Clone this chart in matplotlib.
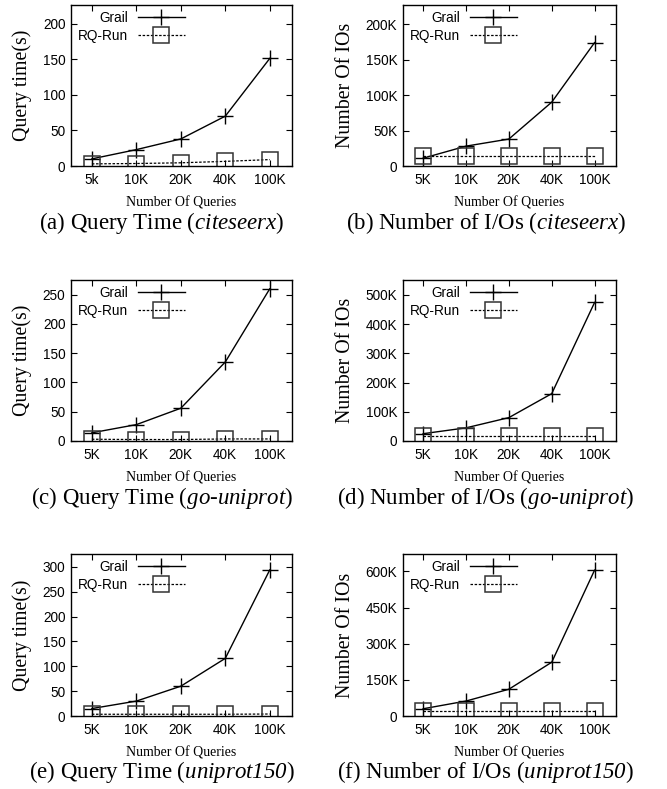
import matplotlib
matplotlib.use("Agg")
import matplotlib.pyplot as plt
import numpy as np

plt.rcParams['font.family'] = ['Liberation Sans', 'DejaVu Sans']
# math parts are only used for the italic dataset names in the captions
plt.rcParams['mathtext.fontset'] = 'custom'
plt.rcParams['mathtext.rm'] = 'Liberation Serif:italic'
plt.rcParams['mathtext.it'] = 'Liberation Serif:italic'

# ---- data ----
queries_a = ["5k", "10K", "20K", "40K", "100K"]
queries = ["5K", "10K", "20K", "40K", "100K"]

grail_time_cite = [10, 23, 38, 70, 151]
rqrun_time_cite = [3, 3.5, 4.5, 6.5, 9]
grail_io_cite = [11000, 28000, 38000, 90000, 174000]
rqrun_io_cite = [14000, 14000, 14000, 14000, 14000]

grail_time_go = [14, 28, 56, 135, 260]
rqrun_time_go = [3, 2.5, 2.5, 3.5, 3.5]
grail_io_go = [25000, 45000, 80000, 162000, 474000]
rqrun_io_go = [17000, 17000, 17000, 17000, 17000]

grail_time_uni = [15, 30, 60, 116, 294]
rqrun_time_uni = [3.5, 3.5, 3.5, 3.5, 4]
grail_io_uni = [30000, 62000, 111000, 223000, 605000]
rqrun_io_uni = [21000, 21000, 21000, 21000, 21000]

captions = [
    r"(a) Query Time ($\mathit{citeseerx}$)",
    r"(b) Number of I/Os ($\mathit{citeseerx}$)",
    r"(c) Query Time ($\mathit{go}$-$\mathit{uniprot}$)",
    r"(d) Number of I/Os ($\mathit{go}$-$\mathit{uniprot}$)",
    r"(e) Query Time ($\mathit{uniprot150}$)",
    r"(f) Number of I/Os ($\mathit{uniprot150}$)",
]

W, H = 667, 789
fig = plt.figure(figsize=(W / 100, H / 100), dpi=100)


def kfmt(v, pos):
    if v == 0:
        return "0"
    return "%dK" % int(round(v / 1000))


def panel(rect, xlabels, grail, rqrun, ymax, ystep, ylabel, ylab_x, is_io):
    l, t, r, b = rect
    ax = fig.add_axes([l / W, 1 - b / H, (r - l) / W, (b - t) / H])
    x = np.arange(len(xlabels))
    ax.plot(x, grail, color='black', lw=1.0, marker='+', ms=11, mew=1.0,
            label='Grail')
    ax.plot(x, rqrun, color='black', lw=0.9, ls=(0, (2, 1.3)), marker='s',
            ms=11, mfc='none', mec='#333333', mew=1.1, label='RQ-Run')
    ax.set_xlim(-0.47, 4.5)
    ax.set_ylim(0, ymax)
    ax.set_xticks(x)
    ax.set_xticklabels(xlabels)
    ax.set_yticks(np.arange(0, ymax, ystep))
    if is_io:
        ax.yaxis.set_major_formatter(matplotlib.ticker.FuncFormatter(kfmt))
    ax.tick_params(direction='in', top=True, right=True, length=4,
                   width=0.8, labelsize=9.8)
    ax.tick_params(axis='x', pad=5)
    ax.tick_params(axis='y', pad=4)
    for s in ax.spines.values():
        s.set_linewidth(1.0)
    ax.set_ylabel(ylabel, family='Liberation Serif', fontsize=14.3)
    ax.yaxis.label.set_va('center')
    ax.yaxis.set_label_coords((ylab_x - l) / (r - l), 0.5)
    ax.set_xlabel('Number Of Queries', family='Liberation Serif', fontsize=10)
    ax.xaxis.label.set_va('center')
    ax.xaxis.set_label_coords(0.5, -37 / (b - t))
    ax.legend(loc='upper left', markerfirst=False, frameon=False,
              bbox_to_anchor=(7 / (r - l), 1 - 6 / (b - t)), borderaxespad=0,
              borderpad=0, handlelength=3.4, handletextpad=0.75,
              labelspacing=0.3, fontsize=9.8, numpoints=1)
    return ax


rows = [(5, 166), (280, 441), (554, 716)]
left = (71, 292)
right = (403, 616)

panel((left[0], rows[0][0], left[1], rows[0][1]), queries_a,
      grail_time_cite, rqrun_time_cite, 226, 50, 'Query time(s)', 22, False)
panel((right[0], rows[0][0], right[1], rows[0][1]), queries,
      grail_io_cite, rqrun_io_cite, 227000, 50000, 'Number Of IOs', 345, True)
panel((left[0], rows[1][0], left[1], rows[1][1]), queries,
      grail_time_go, rqrun_time_go, 275, 50, 'Query time(s)', 22, False)
panel((right[0], rows[1][0], right[1], rows[1][1]), queries,
      grail_io_go, rqrun_io_go, 551000, 100000, 'Number Of IOs', 345, True)
panel((left[0], rows[2][0], left[1], rows[2][1]), queries,
      grail_time_uni, rqrun_time_uni, 326, 50, 'Query time(s)', 22, False)
panel((right[0], rows[2][0], right[1], rows[2][1]), queries,
      grail_io_uni, rqrun_io_uni, 672000, 150000, 'Number Of IOs', 345, True)

cap_y = [223, 498, 772]
cap_x = [162, 486]
for i, c in enumerate(captions):
    fig.text(cap_x[i % 2] / W, 1 - cap_y[i // 2] / H, c, ha='center',
             va='center', family='Liberation Serif', fontsize=16.5)

fig.savefig('out.png', dpi=100)
